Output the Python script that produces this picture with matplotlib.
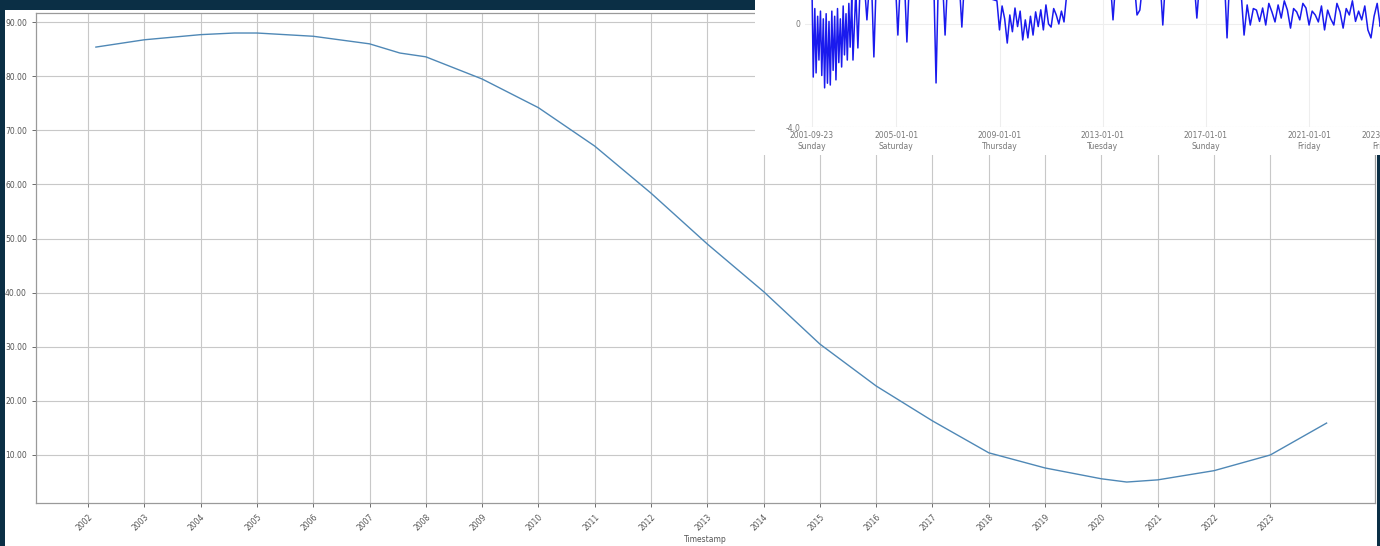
import matplotlib
matplotlib.use("Agg")
import matplotlib.pyplot as plt
from matplotlib.patches import Rectangle

W, H = 1380, 546
NAVY = "#0b2f45"

# main series: decimal year vs value
main_years = [2002.14, 2003.0, 2004.0, 2004.6, 2005.0, 2006.0, 2007.0, 2007.54,
              2008.0, 2009.0, 2010.0, 2011.0, 2012.0, 2013.0, 2014.0, 2015.0,
              2016.0, 2017.0, 2018.0, 2019.0, 2020.0, 2020.45, 2021.0, 2022.0,
              2023.0, 2024.0]
main_vals = [85.4, 86.75, 87.7, 88.0, 88.0, 87.4, 86.0, 84.3,
             83.6, 79.5, 74.2, 67.1, 58.4, 49.0, 40.2, 30.5,
             22.75, 16.3, 10.4, 7.6, 5.6, 5.0, 5.4, 7.1,
             10.0, 15.9]
main_xticks = list(range(2002, 2024))
main_xlabels = [str(y) for y in main_xticks]
main_yticks = [10, 20, 30, 40, 50, 60, 70, 80, 90]

# inset (cropped screenshot of a second plot), in segments
dense_years = [2001.73, 2001.78, 2001.84, 2001.89, 2001.95, 2002.00, 2002.06, 2002.11,
               2002.17, 2002.22, 2002.28, 2002.33, 2002.39, 2002.44, 2002.50, 2002.55,
               2002.61, 2002.66, 2002.72, 2002.77, 2002.83, 2002.88, 2002.94, 2002.99,
               2003.05, 2003.10, 2003.16, 2003.21, 2003.27, 2003.32]
dense_vals = [1.5, -2.06, 0.6, -1.9, 0.3, -1.4, 0.5, -2.0,
              0.2, -2.48, 0.4, -2.3, 0.1, -2.37, 0.5, -1.8,
              0.3, -2.17, 0.6, -1.5, 0.2, -1.67, 0.7, -1.2,
              0.4, -1.4, 0.8, -0.9, 1.0, -1.4]
spikes_a_years = [2003.43, 2003.51, 2003.59, 2003.78, 2003.86, 2003.94, 2004.05, 2004.13,
                  2004.21, 2004.98, 2005.06, 2005.14, 2005.33, 2005.41, 2005.49, 2006.46,
                  2006.54, 2006.62, 2006.81, 2006.89, 2006.97, 2007.46, 2007.54, 2007.62]
spikes_a_vals = [1.3, -0.93, 1.3, 1.3, 0.16, 1.3, 1.3, -1.28,
                 1.3, 1.3, -0.43, 1.3, 1.3, -0.70, 1.3, 1.3,
                 -2.29, 1.3, 1.3, -0.43, 1.3, 1.3, -0.12, 1.3]
wave_years = [2008.90, 2009.00, 2009.10, 2009.20, 2009.30, 2009.40, 2009.50, 2009.60,
              2009.70, 2009.80, 2009.90, 2010.00, 2010.10, 2010.20, 2010.30, 2010.40,
              2010.50, 2010.60, 2010.70, 2010.80, 2010.90, 2011.00, 2011.10, 2011.20,
              2011.30, 2011.40, 2011.50, 2011.62]
wave_vals = [0.9, -0.23, 0.7, 0.2, -0.74, 0.35, -0.3, 0.62,
             -0.1, 0.5, -0.62, 0.16, -0.54, 0.3, -0.43, 0.47,
             -0.1, 0.55, -0.23, 0.74, 0.0, -0.12, 0.6, 0.35,
             0.0, 0.5, 0.08, 1.3]
spikes_b_years = [2013.32, 2013.40, 2013.48, 2014.25, 2014.33, 2014.44, 2014.52, 2015.25,
                  2015.33, 2015.41, 2016.57, 2016.65, 2016.73, 2017.74, 2017.82, 2017.90]
spikes_b_vals = [1.3, 0.16, 1.3, 1.3, 0.35, 0.54, 1.3, 1.3,
                 -0.04, 1.3, 1.3, 0.23, 1.3, 1.3, -0.54, 1.3]
tail_years = [2018.36, 2018.48, 2018.60, 2018.72, 2018.84, 2018.96, 2019.08, 2019.20,
              2019.32, 2019.44, 2019.56, 2019.68, 2019.80, 2019.92, 2020.04, 2020.16,
              2020.28, 2020.40, 2020.52, 2020.64, 2020.76, 2020.88, 2021.00, 2021.12,
              2021.24, 2021.36, 2021.48, 2021.60, 2021.72, 2021.84, 2021.96, 2022.08,
              2022.20, 2022.32, 2022.44, 2022.56, 2022.68, 2022.80, 2022.92, 2023.04,
              2023.16, 2023.28, 2023.40, 2023.52, 2023.64, 2023.76, 2023.88, 2024.00,
              2024.12, 2024.24]
tail_vals = [1.3, -0.43, 0.74, -0.04, 0.6, 0.54, 0.1, 0.62,
             -0.04, 0.8, 0.47, 0.08, 0.74, 0.23, 0.9, 0.54,
             -0.16, 0.6, 0.47, 0.16, 0.8, 0.62, -0.04, 0.5,
             0.35, 0.08, 0.7, -0.23, 0.54, 0.2, -0.04, 0.8,
             0.47, -0.16, 0.6, 0.35, 0.9, 0.1, 0.5, 0.16,
             0.7, -0.23, -0.54, 0.3, 0.8, -0.1, 0.6, 0.2,
             -0.3, 0.5]
inset_xticks = [2001.726, 2005.0, 2009.0, 2013.0, 2017.0, 2021.0, 2023.9]
inset_xlabels = ["2001-09-23\nSunday", "2005-01-01\nSaturday", "2009-01-01\nThursday",
                 "2013-01-01\nTuesday", "2017-01-01\nSunday", "2021-01-01\nFriday",
                 "2023-11-24\nFriday"]
inset_yticks = [-4.0, 0.0]
inset_ylabels = ["-4.0", "0"]

inset_years = dense_years + spikes_a_years + wave_years + spikes_b_years + tail_years
inset_vals = dense_vals + spikes_a_vals + wave_vals + spikes_b_vals + tail_vals


def fx(px):
    return px / W


def fy(py):
    return 1 - py / H


fig = plt.figure(figsize=(W / 100, H / 100), dpi=100, facecolor=NAVY)
fig.patches.append(Rectangle((fx(5), 0), fx(1377 - 5), (H - 10) / H,
                             transform=fig.transFigure, facecolor="white",
                             edgecolor="none", zorder=-1))

ax = fig.add_axes([fx(36), fy(503), fx(1375 - 36), (503 - 13) / H], zorder=0)
ax.plot(main_years, main_vals, color="#4f88b6", lw=1.0)
ax.set_xlim(2001.076, 2024.86)
ax.set_ylim(1.125, 91.7)
ax.set_xticks(main_xticks)
ax.set_xticklabels(main_xlabels, rotation=45, ha="right", rotation_mode="anchor")
ax.set_yticks(main_yticks)
ax.set_yticklabels([f"{v:.2f}" for v in main_yticks])
ax.tick_params(labelsize=5.5, colors="#555555", length=3, width=0.6)
ax.grid(True, color="#c8c8c8", lw=0.8)
for s in ax.spines.values():
    s.set_color("#9a9a9a")
    s.set_linewidth(0.9)
ax.set_xlabel("Timestamp", fontsize=5.5, color="#555555", labelpad=2)

# white panel of the pasted inset, then the inset plot on top
fig.patches.append(Rectangle((fx(755), fy(155)), fx(W - 755), 155 / H,
                             transform=fig.transFigure, facecolor="white",
                             edgecolor="none", zorder=2))
ins = fig.add_axes([fx(805), fy(127), fx(1420 - 805), (127 + 40) / H], zorder=3)
ins.patch.set_alpha(0)
ins.plot(inset_years, inset_vals, color="#1a1aee", lw=1.1)
ins.set_xlim(2001.46, 2025.30)
ins.set_ylim(-4.0, 2.485)
ins.set_xticks(inset_xticks)
ins.set_xticklabels(inset_xlabels)
ins.set_yticks(inset_yticks)
ins.set_yticklabels(inset_ylabels)
ins.tick_params(labelsize=5.5, colors="#777777", length=0, pad=3)
ins.grid(True, color="#eeeeee", lw=0.8)
for s in ins.spines.values():
    s.set_visible(False)
ins.axhline(-4.0, color="#e6e6e6", lw=0.8, ls=":")

fig.savefig("out.png", dpi=100, facecolor=NAVY)
